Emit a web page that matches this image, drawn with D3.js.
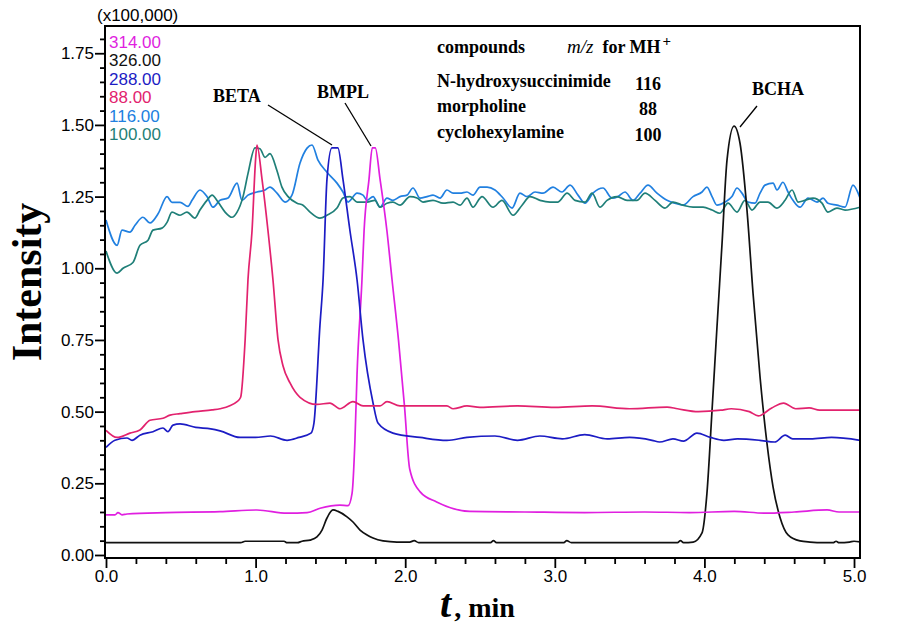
<!DOCTYPE html>
<html><head><meta charset="utf-8">
<script src="https://cdn.jsdelivr.net/npm/d3@7"></script>
<style>body{margin:0;background:#fff} svg{display:block}</style>
</head><body><svg id="c" width="909" height="635"></svg>
<script>
// ---- data (time in min, intensity in x100,000) ----
const channels = ["314.00","326.00","288.00","88.00","116.00","100.00"];
const xTicks = [0,1,2,3,4,5];
const yTicks = [0,0.25,0.5,0.75,1.0,1.25,1.5,1.75];

const t314 = [0,0.06,0.08,0.107,0.14,0.4,0.762,1.009,1.21,1.344,1.431,1.564,1.618,1.645,1.664,1.678,1.711,1.725,1.758,1.78,1.80,1.832,1.878,1.912,1.955,1.995,2.03,2.10,2.21,2.43,2.8,3.2,3.6,3.9,4.2,4.4,4.6,4.82,4.9,5.04];
const v314 = [0.14,0.14,0.148,0.14,0.143,0.148,0.151,0.157,0.146,0.148,0.163,0.174,0.172,0.216,0.40,0.63,0.96,1.13,1.31,1.42,1.42,1.31,1.13,0.96,0.75,0.52,0.30,0.22,0.185,0.152,0.15,0.148,0.15,0.148,0.152,0.146,0.15,0.157,0.15,0.15];

const t326 = [0,0.90,0.93,1.19,1.21,1.28,1.31,1.364,1.41,1.444,1.477,1.517,1.551,1.611,1.651,1.698,1.745,1.785,1.852,1.945,2.03,2.06,2.09,2.57,2.59,2.61,3.06,3.08,3.11,3.82,3.84,3.86,3.925,3.984,4.017,4.051,4.084,4.118,4.151,4.198,4.238,4.285,4.325,4.372,4.418,4.459,4.505,4.559,4.639,4.706,4.8,4.86,4.88,4.90,4.97,5.0,5.04];
const v326 = [0.043,0.043,0.048,0.048,0.043,0.043,0.048,0.052,0.063,0.087,0.129,0.157,0.152,0.133,0.115,0.087,0.07,0.059,0.049,0.045,0.045,0.05,0.043,0.043,0.05,0.043,0.043,0.05,0.043,0.043,0.05,0.043,0.045,0.077,0.216,0.505,0.795,1.088,1.377,1.496,1.436,1.20,0.913,0.62,0.39,0.237,0.132,0.07,0.049,0.045,0.043,0.043,0.048,0.043,0.045,0.048,0.046];

const t288 = [0,0.06,0.14,0.174,0.227,0.314,0.381,0.414,0.448,0.495,0.6,0.7,0.762,0.896,1.0,1.1,1.21,1.29,1.37,1.39,1.43,1.451,1.477,1.51,1.55,1.584,1.631,1.678,1.718,1.785,1.818,1.918,2.099,2.279,2.413,2.6,2.75,2.9,3.05,3.2,3.35,3.5,3.65,3.7,3.79,3.86,3.95,4.04,4.13,4.22,4.37,4.47,4.54,4.59,4.71,4.85,5.04];
const v288 = [0.375,0.40,0.408,0.40,0.418,0.43,0.443,0.43,0.453,0.457,0.445,0.44,0.433,0.41,0.41,0.415,0.40,0.41,0.425,0.46,0.80,0.96,1.31,1.42,1.42,1.31,1.13,0.96,0.75,0.53,0.46,0.425,0.41,0.40,0.41,0.415,0.40,0.415,0.405,0.42,0.405,0.41,0.40,0.394,0.405,0.397,0.425,0.41,0.40,0.405,0.40,0.394,0.418,0.405,0.405,0.41,0.40];

const t88 = [0,0.074,0.16,0.227,0.294,0.381,0.428,0.495,0.595,0.709,0.762,0.876,0.90,0.93,0.949,0.976,1.0,1.009,1.043,1.083,1.116,1.15,1.183,1.23,1.297,1.41,1.497,1.564,1.651,1.718,1.832,1.878,1.965,2.099,2.279,2.32,2.413,2.5,2.75,3.0,3.25,3.5,3.75,3.82,3.96,4.11,4.18,4.30,4.36,4.45,4.53,4.61,4.70,4.77,4.9,5.04];
const v88 = [0.435,0.41,0.425,0.436,0.47,0.477,0.488,0.493,0.50,0.506,0.51,0.535,0.55,0.75,0.96,1.13,1.38,1.43,1.31,1.13,0.96,0.75,0.66,0.60,0.55,0.525,0.53,0.51,0.535,0.52,0.52,0.535,0.52,0.52,0.52,0.51,0.52,0.515,0.52,0.515,0.52,0.51,0.516,0.51,0.50,0.505,0.51,0.50,0.485,0.513,0.53,0.51,0.513,0.505,0.505,0.505];

const t116 = [0,0.074,0.107,0.16,0.194,0.247,0.294,0.348,0.408,0.441,0.495,0.548,0.575,0.628,0.675,0.715,0.762,0.816,0.876,0.909,0.949,1.009,1.063,1.096,1.143,1.197,1.243,1.297,1.344,1.377,1.417,1.477,1.544,1.584,1.618,1.678,1.718,1.745,1.785,1.832,1.878,1.918,1.965,2.012,2.052,2.099,2.146,2.186,2.233,2.279,2.32,2.366,2.413,2.453,2.5,
  2.547,2.6,2.654,2.714,2.767,2.814,2.868,2.921,2.988,3.048,3.102,3.155,3.202,3.255,3.322,3.382,3.422,3.469,3.523,3.57,3.623,3.683,3.75,3.803,3.857,3.924,3.984,4.017,4.051,4.084,4.138,4.184,4.218,4.251,4.291,4.338,4.372,4.405,4.459,4.485,4.525,4.559,4.592,4.639,4.693,4.753,4.793,4.826,4.886,4.94,4.993,5.04];
const v116 = [1.168,1.08,1.133,1.126,1.15,1.178,1.158,1.19,1.25,1.23,1.23,1.216,1.237,1.273,1.25,1.213,1.237,1.245,1.297,1.237,1.255,1.266,1.273,1.283,1.262,1.231,1.255,1.367,1.419,1.43,1.377,1.335,1.297,1.266,1.231,1.262,1.255,1.237,1.25,1.213,1.245,1.237,1.25,1.255,1.28,1.245,1.25,1.255,1.245,1.273,1.262,1.262,1.266,1.255,1.283,
  1.283,1.273,1.245,1.21,1.262,1.25,1.266,1.262,1.283,1.266,1.29,1.255,1.227,1.262,1.28,1.245,1.25,1.266,1.237,1.262,1.29,1.262,1.237,1.227,1.22,1.25,1.266,1.283,1.25,1.22,1.231,1.25,1.28,1.262,1.231,1.227,1.262,1.29,1.297,1.273,1.3,1.266,1.237,1.213,1.245,1.231,1.245,1.227,1.22,1.213,1.29,1.245];

const t100 = [0,0.074,0.114,0.18,0.227,0.281,0.314,0.374,0.408,0.441,0.495,0.541,0.595,0.628,0.675,0.709,0.749,0.796,0.842,0.876,0.916,0.949,0.996,1.029,1.063,1.096,1.143,1.176,1.217,1.277,1.317,1.364,1.43,1.477,1.544,1.584,1.631,1.678,1.745,1.798,1.832,1.878,1.918,1.965,2.032,2.079,2.119,2.186,2.253,2.32,2.366,2.413,2.453,2.5,
  2.513,2.587,2.647,2.721,2.781,2.834,2.901,2.968,3.021,3.082,3.135,3.202,3.249,3.302,3.349,3.416,3.483,3.549,3.603,3.67,3.737,3.79,3.857,3.924,3.991,4.051,4.104,4.158,4.218,4.271,4.318,4.372,4.425,4.485,4.539,4.586,4.626,4.672,4.726,4.786,4.826,4.886,4.94,5.04];
const v100 = [1.06,0.983,1.0,1.02,1.08,1.098,1.133,1.14,1.16,1.196,1.185,1.196,1.175,1.203,1.237,1.255,1.231,1.196,1.178,1.196,1.25,1.33,1.42,1.417,1.387,1.40,1.34,1.283,1.25,1.227,1.22,1.196,1.175,1.185,1.21,1.245,1.25,1.231,1.231,1.237,1.213,1.227,1.231,1.22,1.25,1.245,1.231,1.237,1.227,1.231,1.22,1.245,1.213,1.245,
  1.25,1.213,1.237,1.185,1.22,1.25,1.237,1.231,1.231,1.262,1.237,1.231,1.262,1.213,1.237,1.25,1.237,1.237,1.262,1.237,1.21,1.231,1.22,1.213,1.213,1.203,1.192,1.227,1.196,1.237,1.203,1.231,1.231,1.21,1.237,1.273,1.231,1.237,1.245,1.227,1.196,1.21,1.203,1.213];

const tableNames = ["N-hydroxysuccinimide","morpholine","cyclohexylamine"];
const tableMz = ["116","88","100"];
const peakLabels = ["BETA","BMPL","BCHA"];

// ---- styles ----
const colors = {"314.00":"#e01fe0","326.00":"#111111","288.00":"#1c1cc4","88.00":"#e2226e","116.00":"#2180e0","100.00":"#1f7f78"};
const seriesData = {
  "314.00": d3.zip(t314, v314), "326.00": d3.zip(t326, v326), "288.00": d3.zip(t288, v288),
  "88.00": d3.zip(t88, v88), "116.00": d3.zip(t116, v116), "100.00": d3.zip(t100, v100)
};
const drawOrder = ["116.00","100.00","326.00","314.00","288.00","88.00"];

const svg = d3.select("#c");
svg.append("rect").attr("width",909).attr("height",635).attr("fill","#fff");
const L = 105, R = 860, T = 26, B = 558;
const x = d3.scaleLinear().domain([0,5.04]).range([106,860]);
const y = d3.scaleLinear().domain([-0.0105,1.845]).range([B,T]);

svg.append("clipPath").attr("id","clip").append("rect").attr("x",L).attr("y",T).attr("width",R-L).attr("height",B-T);

const sansF = "'Liberation Sans', Arial, sans-serif";
const serifF = "'Liberation Serif', 'Times New Roman', serif";

// minor ticks
const yMinor = d3.range(0, 1.8001, 0.05).filter(v => yTicks.every(m => Math.abs(m - v) > 1e-6));
const xMinor = d3.range(0, 5.0001, 0.2).filter(v => xTicks.every(m => Math.abs(m - v) > 1e-6));

const gy = svg.append("g").attr("transform",`translate(${L},0)`)
  .call(d3.axisLeft(y).tickValues(yTicks).tickSize(10).tickPadding(1).tickFormat(d3.format(".2f")));
const gym = svg.append("g").attr("transform",`translate(${L},0)`)
  .call(d3.axisLeft(y).tickValues(yMinor).tickSize(5).tickFormat(""));
const gx = svg.append("g").attr("transform",`translate(0,${B})`)
  .call(d3.axisBottom(x).tickValues(xTicks).tickSize(10).tickPadding(2).tickFormat(d3.format(".1f")));
const gxm = svg.append("g").attr("transform",`translate(0,${B})`)
  .call(d3.axisBottom(x).tickValues(xMinor).tickSize(6).tickFormat(""));
[gy,gym,gx,gxm].forEach(g => {
  g.select(".domain").remove();
  g.selectAll(".tick line").attr("stroke","#000").attr("stroke-width",1.8);
  g.selectAll("text").attr("font-family",sansF).attr("font-size",17).attr("fill","#000");
});

// lines
const line = d3.line().x(d => x(d[0])).y(d => y(d[1])).curve(d3.curveMonotoneX);
const gl = svg.append("g").attr("clip-path","url(#clip)");
drawOrder.forEach(k => {
  gl.append("path").datum(seriesData[k]).attr("d",line)
    .attr("fill","none").attr("stroke",colors[k]).attr("stroke-width",1.7).attr("stroke-linejoin","round");
});

// frame
svg.append("rect").attr("x",L).attr("y",T).attr("width",R-L).attr("height",B-T)
  .attr("fill","none").attr("stroke","#000").attr("stroke-width",2);

// scale note
svg.append("text").attr("x",97).attr("y",21).attr("font-family",sansF).attr("font-size",17).text("(x100,000)");

// channel legend
channels.forEach((c,i) => {
  svg.append("text").attr("x",109).attr("y",48 + i*18.45).attr("font-family",sansF).attr("font-size",17)
    .attr("fill",colors[c]).text(c);
});

// table
const tb = svg.append("g").attr("font-family",serifF).attr("font-size",18).attr("font-weight","bold");
tb.append("text").attr("x",437).attr("y",53).text("compounds");
const hdr = tb.append("text").attr("x",567).attr("y",53);
hdr.append("tspan").attr("font-style","italic").attr("font-weight","normal").attr("font-size",19).text("m/z");
hdr.append("tspan").attr("dx",9).text("for MH");
hdr.append("tspan").attr("font-size",15).attr("dy",-7).attr("dx",2).text("+");
const rowY = [87,112,138];
tableNames.forEach((n,i) => {
  tb.append("text").attr("x",437).attr("y",rowY[i]).text(n);
  tb.append("text").attr("x",648).attr("y",rowY[i]+3).attr("text-anchor","middle").text(tableMz[i]);
});

// peak labels + leaders
const pl = [ {x:213,y:102,l:[268,105,332,145]}, {x:317,y:98,l:[345,103,371,146]}, {x:752,y:95,l:[757,106,740,127]} ];
peakLabels.forEach((p,i) => {
  svg.append("text").attr("x",pl[i].x).attr("y",pl[i].y).attr("font-family",serifF).attr("font-weight","bold")
    .attr("font-size",18).text(p);
  const a = pl[i].l;
  svg.append("line").attr("x1",a[0]).attr("y1",a[1]).attr("x2",a[2]).attr("y2",a[3]).attr("stroke","#000").attr("stroke-width",1.3);
});

// axis titles
svg.append("text").attr("transform","translate(41,282) rotate(-90)").attr("text-anchor","middle")
  .attr("font-family",serifF).attr("font-weight","bold").attr("font-size",42).text("Intensity");
const xt = svg.append("text").attr("x",440).attr("y",617).attr("font-family",serifF).attr("font-weight","bold");
xt.append("tspan").attr("font-style","italic").attr("font-size",40).text("t");
xt.append("tspan").attr("font-size",28).attr("dx",3).text(", min");
</script></body></html>
